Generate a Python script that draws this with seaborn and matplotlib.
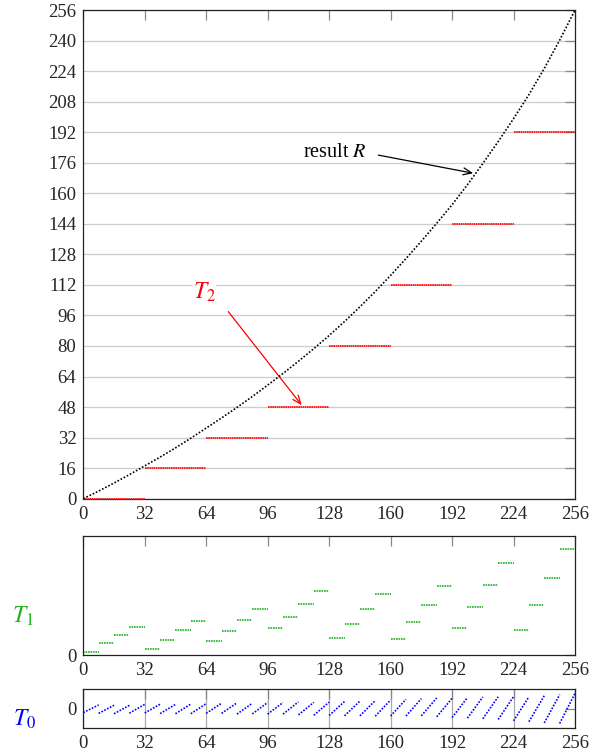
import numpy as np
import pandas as pd
import seaborn as sns
import matplotlib.pyplot as plt

# values
t2_values = [0, 16, 32, 48, 80, 112, 144, 192]          # one per block of 32
t1_values = [1.9, 6.3, 10.7, 14.8, 3.3, 8.2, 13.1, 18.2,   # one per block of 8
             7.3, 12.6, 18.5, 24.1, 14.2, 20.3, 27.1, 33.9,
             8.9, 16.4, 24.1, 32.3, 8.7, 17.5, 26.5, 36.4,
             14.5, 25.3, 36.7, 48.6, 13.3, 26.4, 40.7, 55.8]
r_values = [0, 4.0, 8.2, 12.6, 17.2, 21.8, 26.6, 31.7, 37.0,  # result R at x = 0, 8, ..., 256
            42.3, 47.8, 53.5, 59.5, 65.6, 72.0, 78.6, 85.5,
            92.8, 100.5, 108.5, 117.0, 125.8, 134.9, 144.3, 154.0,
            164.5, 175.6, 187.1, 199.1, 211.7, 225.4, 240.2, 256.0]
x_ticks = [0, 32, 64, 96, 128, 160, 192, 224, 256]
y_ticks_top = list(range(0, 257, 16))

t2_width = 32
t1_width = 8

green = "#1fb31f"

# build long tables for seaborn (one "seg" per table entry)
r_df = pd.DataFrame({"x": np.arange(len(r_values)) * t1_width, "R": r_values})

rows = []
for k, v in enumerate(t2_values):
    rows.append((k, k * t2_width, v))
    rows.append((k, (k + 1) * t2_width, v))
t2_df = pd.DataFrame(rows, columns=["seg", "x", "T2"])

rows = []
for j, v in enumerate(t1_values):
    rows.append((j, j * t1_width, v))
    rows.append((j, (j + 1) * t1_width, v))
t1_df = pd.DataFrame(rows, columns=["seg", "x", "T1"])

# T0 is what is left: R - T2 - T1 inside each block of 8
rows = []
per = t2_width // t1_width
for j, v in enumerate(t1_values):
    base = t2_values[j // per] + v
    rows.append((j, j * t1_width, r_values[j] - base))
    rows.append((j, (j + 1) * t1_width, r_values[j + 1] - base))
t0_df = pd.DataFrame(rows, columns=["seg", "x", "T0"])

sns.set_style("white")
plt.rcParams["font.family"] = ["Liberation Serif", "DejaVu Serif"]
plt.rcParams["mathtext.fontset"] = "stix"

fig = plt.figure(figsize=(6.03, 7.54), dpi=100)
ax_top = fig.add_axes([0.1381, 0.3386, 0.8155, 0.6481])
ax_mid = fig.add_axes([0.1381, 0.1309, 0.8155, 0.1582])
ax_bot = fig.add_axes([0.1381, 0.0349, 0.8155, 0.0509])

# top panel: result R and T2
sns.lineplot(data=r_df, x="x", y="R", color="black", lw=1.2,
             linestyle=(0, (1, 1.1)), ax=ax_top, zorder=5)
sns.lineplot(data=t2_df, x="x", y="T2", units="seg", estimator=None,
             color="red", lw=1.2, linestyle=(0, (1, 0.3)), ax=ax_top,
             zorder=4, clip_on=False)
ax_top.set_xlim(0, 256)
ax_top.set_ylim(0, 256)
ax_top.set_xticks(x_ticks)
ax_top.set_yticks(y_ticks_top)
ax_top.yaxis.grid(True, color="#cccccc", lw=0.9)
ax_top.set_axisbelow(True)

ax_top.text(63, 108, "$T_2$", color="red", fontsize=17, ha="center", va="center",
            bbox=dict(facecolor="white", edgecolor="none", pad=0.5))
ax_top.annotate("", xy=(113.7, 49), xytext=(75.5, 98),
                arrowprops=dict(arrowstyle="->,head_length=0.6,head_width=0.25",
                                color="red", lw=0.9, shrinkA=0, shrinkB=0))
ax_top.text(147.5, 178.8, "result $R$", color="black", fontsize=14.5,
            ha="right", va="baseline")
ax_top.annotate("", xy=(203, 170.5), xytext=(153.6, 180),
                arrowprops=dict(arrowstyle="->,head_length=0.6,head_width=0.25",
                                color="black", lw=0.9, shrinkA=0, shrinkB=0))

# middle panel: T1
sns.lineplot(data=t1_df, x="x", y="T1", units="seg", estimator=None,
             color=green, lw=1.2, linestyle=(0, (1, 0.5)), ax=ax_mid)
ax_mid.set_xlim(0, 256)
ax_mid.set_ylim(0, 62.5)
ax_mid.set_xticks(x_ticks)
ax_mid.set_yticks([0])

# bottom panel: T0
sns.lineplot(data=t0_df, x="x", y="T0", units="seg", estimator=None,
             color="blue", lw=1.2, linestyle=(0, (1, 0.9)), ax=ax_bot)
ax_bot.set_xlim(0, 256)
ax_bot.set_ylim(-9.8, 10.3)
ax_bot.set_xticks(x_ticks)
ax_bot.set_yticks([0])
ax_bot.xaxis.grid(True, color="#aaaaaa", lw=0.9)
ax_bot.set_axisbelow(True)

for ax in (ax_top, ax_mid, ax_bot):
    ax.set_xlabel("")
    ax.set_ylabel("")
    ax.tick_params(direction="in", length=7.5, width=0.9, color="#888888",
                   top=True, right=True, labelsize=13.5, pad=5)
    for sp in ax.spines.values():
        sp.set_color("#222222")
        sp.set_linewidth(0.9)

fig.text(0.038, 0.182, "$T_1$", color=green, fontsize=17, ha="center", va="center")
fig.text(0.040, 0.046, "$T_0$", color="blue", fontsize=17, ha="center", va="center")

fig.savefig("out.png", dpi=100)
